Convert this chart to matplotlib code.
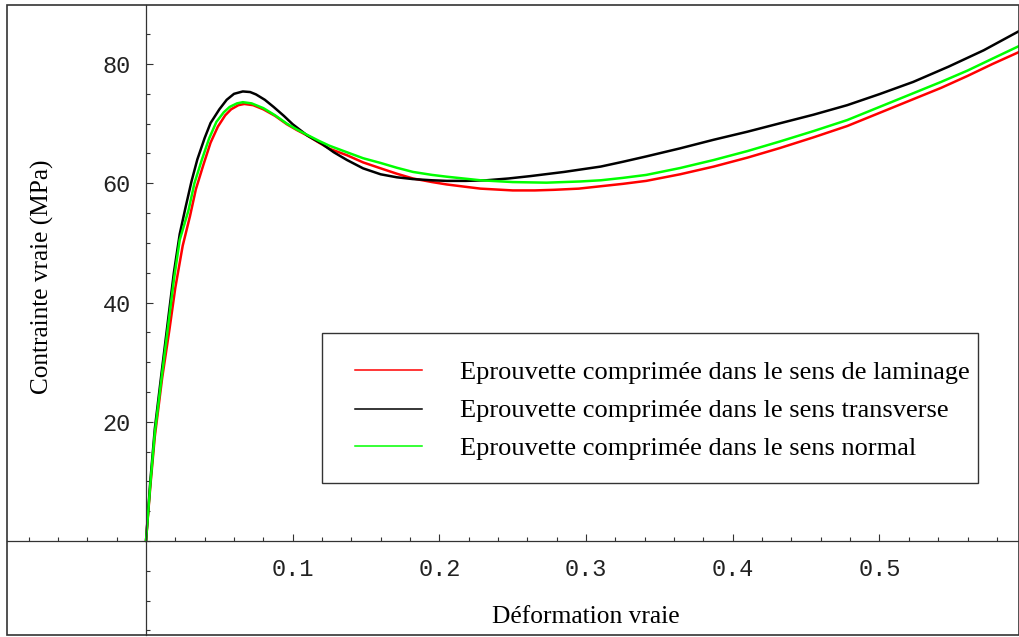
import matplotlib
matplotlib.use("Agg")
import matplotlib.pyplot as plt
from matplotlib.lines import Line2D
from matplotlib.patches import Rectangle
from matplotlib.ticker import FixedLocator, MultipleLocator

# ---- data ----
x_black = [0, 0.003, 0.006, 0.011, 0.015, 0.019, 0.023, 0.027, 0.031, 0.035, 0.04, 0.044,
           0.05, 0.055, 0.06, 0.066, 0.071, 0.075, 0.081, 0.087, 0.094, 0.1, 0.11, 0.12,
           0.128, 0.137, 0.148, 0.16, 0.171, 0.182, 0.195, 0.205, 0.218, 0.232, 0.247,
           0.262, 0.285, 0.31, 0.325, 0.341, 0.364, 0.387, 0.41, 0.432, 0.455, 0.478,
           0.5, 0.523, 0.547, 0.571, 0.595]
y_black = [0, 10.2, 18.8, 29.0, 37.0, 45.0, 51.5, 56.0, 60.3, 64.0, 67.6, 70.1,
           72.4, 74.0, 75.0, 75.4, 75.3, 74.9, 74.0, 72.8, 71.3, 69.9, 68.0, 66.6,
           65.2, 63.9, 62.5, 61.5, 61.0, 60.7, 60.5, 60.4, 60.4, 60.5, 60.8,
           61.2, 61.9, 62.8, 63.6, 64.5, 65.85, 67.3, 68.65, 70.05, 71.5, 73.1,
           74.95, 77.0, 79.55, 82.3, 85.5]

x_green = [0, 0.003, 0.006, 0.011, 0.015, 0.019, 0.023, 0.029, 0.033, 0.038, 0.043, 0.048,
           0.053, 0.057, 0.062, 0.066, 0.072, 0.08, 0.088, 0.096, 0.103, 0.11, 0.118, 0.125,
           0.137, 0.148, 0.16, 0.171, 0.182, 0.195, 0.205, 0.228, 0.25, 0.273, 0.296, 0.31,
           0.325, 0.341, 0.364, 0.387, 0.41, 0.432, 0.455, 0.478, 0.5, 0.523, 0.542, 0.56,
           0.577, 0.595]
y_green = [0, 9.7, 18.1, 28.1, 35.9, 43.8, 50.5, 55.5, 60.0, 63.9, 67.5, 70.3,
           71.9, 72.8, 73.4, 73.6, 73.4, 72.6, 71.4, 70.0, 69.0, 68.1, 67.1, 66.3,
           65.2, 64.2, 63.4, 62.6, 61.9, 61.4, 61.1, 60.5, 60.2, 60.1, 60.3, 60.5,
           60.9, 61.4, 62.55, 63.9, 65.4, 67.0, 68.75, 70.6, 72.8, 75.1, 77.0, 78.9,
           80.9, 83.0]

x_red = [0, 0.003, 0.006, 0.011, 0.016, 0.02, 0.025, 0.03, 0.034, 0.039, 0.044, 0.049,
         0.054, 0.058, 0.063, 0.067, 0.073, 0.08, 0.088, 0.096, 0.103, 0.11, 0.118, 0.125,
         0.137, 0.148, 0.16, 0.171, 0.182, 0.195, 0.205, 0.218, 0.228, 0.25, 0.265, 0.278,
         0.295, 0.31, 0.325, 0.341, 0.364, 0.387, 0.41, 0.432, 0.455, 0.478, 0.5, 0.523,
         0.542, 0.56, 0.577, 0.595]
y_red = [0, 9.3, 17.5, 27.3, 35.5, 42.5, 49.5, 54.5, 59.0, 63.0, 66.8, 69.5,
         71.4, 72.4, 73.1, 73.3, 73.1, 72.4, 71.3, 69.9, 68.9, 68.0, 66.8, 65.8,
         64.7, 63.5, 62.5, 61.6, 60.8, 60.2, 59.8, 59.4, 59.1, 58.8, 58.8, 58.9,
         59.1, 59.5, 59.9, 60.4, 61.5, 62.8, 64.3, 65.9, 67.7, 69.6, 71.8, 74.1,
         76.0, 78.0, 80.0, 82.0]

labels = ["Eprouvette comprimée dans le sens de laminage",
          "Eprouvette comprimée dans le sens transverse",
          "Eprouvette comprimée dans le sens normal"]
colors = ["#ff0000", "#000000", "#00ff00"]
x_ticks = [0.1, 0.2, 0.3, 0.4, 0.5]
x_ticklabels = ["0.1", "0.2", "0.3", "0.4", "0.5"]
y_ticks = [20, 40, 60, 80]
y_ticklabels = ["20", "40", "60", "80"]
xlabel = "Déformation vraie"
ylabel = "Contrainte vraie (MPa)"

W, H = 1019, 637
fig = plt.figure(figsize=(W / 100, H / 100), dpi=100)
L, T, R, B = 7, 5, 1019, 635
ax = fig.add_axes([L / W, 1 - B / H, (R - L) / W, (B - T) / H])
ax.set_xlim(-0.09475, 0.5951)
ax.set_ylim(-15.77, 89.9)

series = [(x_red, y_red), (x_black, y_black), (x_green, y_green)]
for (xs, ys), c in zip(series, colors):
    ax.plot(xs, ys, color=c, lw=1.8, solid_joinstyle="round", solid_capstyle="round")

for s in ["top", "right"]:
    ax.spines[s].set_visible(False)
ax.spines["left"].set_position(("data", 0))
ax.spines["bottom"].set_position(("data", 0))
for s in ["left", "bottom"]:
    ax.spines[s].set_color("#333333")
    ax.spines[s].set_linewidth(0.9)

ax.xaxis.set_major_locator(FixedLocator(x_ticks))
ax.xaxis.set_minor_locator(MultipleLocator(0.02))
ax.yaxis.set_major_locator(FixedLocator(y_ticks))
ax.yaxis.set_minor_locator(MultipleLocator(5))
ax.set_xticklabels(x_ticklabels)
ax.set_yticklabels(y_ticklabels)
ax.tick_params(which="both", direction="in", color="#333333", width=0.8)
ax.tick_params(which="major", length=5)
ax.tick_params(which="minor", length=3)
ax.tick_params(axis="x", which="major", pad=12)
ax.tick_params(axis="y", which="major", pad=11)
for lab in ax.get_xticklabels() + ax.get_yticklabels():
    lab.set_fontfamily("Liberation Mono")
    lab.set_fontsize(17)
    lab.set_color("#222222")

fig.text(586 / W, 1 - 617 / H, xlabel, family="Liberation Serif", fontsize=18.4,
         ha="center", va="center")
fig.text(42 / W, 1 - 277 / H, ylabel, family="Liberation Serif", fontsize=18.2,
         ha="center", va="center", rotation=90)

# frame around the plot
fig.patches.append(Rectangle((L / W, 1 - B / H), (R - L) / W, (B - T) / H,
                             transform=fig.transFigure, fill=False,
                             edgecolor="#333333", lw=1.2))

# legend (drawn as a boxed key, positioned like the reference)
fig.patches.append(Rectangle((322 / W, 1 - 483 / H), (978 - 322) / W, (483 - 333) / H,
                             transform=fig.transFigure, facecolor="white",
                             edgecolor="#333333", lw=1.0, zorder=5))
row_y = [370, 409, 446]
for yy, c, lab in zip(row_y, colors, labels):
    fig.add_artist(Line2D([355 / W, 422 / W], [1 - yy / H, 1 - yy / H],
                          transform=fig.transFigure, color=c, lw=1.1, zorder=6))
    fig.text(460 / W, 1 - yy / H, lab, family="Liberation Serif", fontsize=19,
             ha="left", va="center_baseline", zorder=6)

fig.savefig("out.png", dpi=100)
